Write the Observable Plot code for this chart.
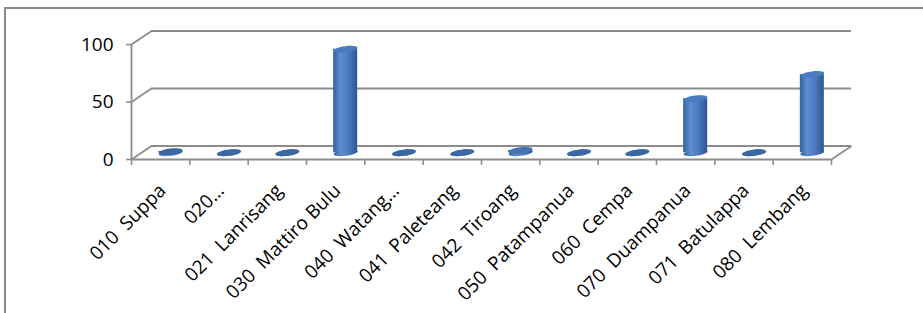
<!DOCTYPE html>
<html>
<head>
<meta charset="utf-8">
<script src="https://cdn.jsdelivr.net/npm/d3@7"></script>
<script src="https://cdn.jsdelivr.net/npm/@observablehq/plot@0.6"></script>
<style>
  html, body { margin: 0; padding: 0; background: #fff; overflow: hidden; }
  #frame { position: absolute; left: 4px; top: 7px; width: 1000px; height: 400px; border: 2px solid #8a8a8a; box-sizing: border-box; }
  #chart { position: absolute; left: 0; top: 0; }
  #chart svg text { white-space: pre; }
</style>
</head>
<body>
<div id="frame"></div>
<div id="chart"></div>
<script>
// ---- data ----
const categories = ["010  Suppa", "020…", "021  Lanrisang", "030  Mattiro Bulu", "040  Watang…", "041  Paleteang",
  "042  Tiroang", "050  Patampanua", "060  Cempa", "070  Duampanua", "071  Batulappa", "080  Lembang"];
const values = [1, 0, 0, 90, 0, 0, 2, 0, 0, 47, 0, 68];
const yTicks = [0, 50, 100];

// ---- layout ----
const W = 923, H = 313;
const mL = 131, mR = 92, mT = 44, mB = 154;
const n = categories.length;
const pxPerX = (W - mL - mR) / n;
const pxPerY = (H - mT - mB) / 100;
const DX = 20 / pxPerX;      // depth offset in x units
const DY = 13.5 / pxPerY;    // depth offset in y units
const HW = 12 / pxPerX;      // half cylinder width
const grid = "#8c8c8c";

const data = categories.map((name, i) => ({name, i, value: values[i]}));

const ellipse = {
  draw(ctx, size) {
    const r = Math.sqrt(size / Math.PI);
    const rx = r, ry = r * 0.26;
    const t = -7 * Math.PI / 180, c = Math.cos(t), s = Math.sin(t);
    const P = (x, y) => [x * c - y * s, x * s + y * c];
    const k = 0.5523;
    const m = P(rx, 0); ctx.moveTo(m[0], m[1]);
    const segs = [
      [[rx, ry * k], [rx * k, ry], [0, ry]],
      [[-rx * k, ry], [-rx, ry * k], [-rx, 0]],
      [[-rx, -ry * k], [-rx * k, -ry], [0, -ry]],
      [[rx * k, -ry], [rx, -ry * k], [rx, 0]]
    ];
    for (const [a, b, e] of segs) {
      const A = P(...a), B = P(...b), E = P(...e);
      ctx.bezierCurveTo(A[0], A[1], B[0], B[1], E[0], E[1]);
    }
    ctx.closePath();
  }
};

const cx = d => d.i + 0.5 + DX / 2;

const plot = Plot.plot({
  width: W, height: H,
  marginLeft: mL, marginRight: mR, marginTop: mT, marginBottom: mB,
  x: {domain: [0, n], axis: null},
  y: {domain: [0, 100], axis: null},
  color: {type: "identity"},
  style: {fontFamily: "'Open Sans', sans-serif", background: "transparent", overflow: "visible", color: "#000"},
  marks: [
    // back wall gridlines
    Plot.ruleY(yTicks, {y: d => d + DY, x1: DX, x2: n + DX, stroke: grid, strokeWidth: 1.8}),
    // side wall diagonals
    Plot.link(yTicks, {x1: 0, y1: d => d, x2: DX, y2: d => d + DY, stroke: grid, strokeWidth: 1.8}),
    // floor right edge
    Plot.link([0], {x1: n, y1: 0, x2: n + DX, y2: DY, stroke: grid, strokeWidth: 1.8}),
    // floor front edge
    Plot.ruleY([0], {x1: 0, x2: n, stroke: grid, strokeWidth: 1.8}),
    // front y axis line
    Plot.ruleX([0], {y1: 0, y2: 100, stroke: grid, strokeWidth: 1.8}),
    Plot.axisY(yTicks, {anchor: "left", tickSize: 5, tickPadding: 13, fontSize: 19, stroke: grid, strokeWidth: 1.6, fill: "#000"}),
    Plot.axisX(d3.range(n + 1), {anchor: "bottom", tickSize: 6, tickFormat: () => "", stroke: grid, strokeWidth: 1.6}),
    // cylinders
    Plot.dot(data, {x: cx, y: DY / 2, r: 12, symbol: ellipse, fill: "url(#cylGrad)"}),
    Plot.rect(data, {x1: d => cx(d) - HW, x2: d => cx(d) + HW, y1: DY / 2, y2: d => d.value + DY / 2, fill: "url(#cylGrad)"}),
    Plot.dot(data, {x: cx, y: d => d.value + DY / 2, r: 12, symbol: ellipse,
      fill: d => d.value > 5 ? "#4b7cbf" : (d.value > 1.5 ? "#4474b4" : "#3b68a3")}),
    // category labels
    Plot.text(data, {x: d => d.i + 0.5, y: 0, text: "name", rotate: -45, textAnchor: "end", dx: 2, dy: 28, fontSize: 19, fill: "#000"})
  ]
});

document.getElementById("chart").appendChild(plot);
d3.select(plot).insert("defs", ":first-child").html(`
  <linearGradient id="cylGrad" x1="0" x2="1" y1="0" y2="0">
    <stop offset="0" stop-color="#34609a"/>
    <stop offset="0.3" stop-color="#5d90d3"/>
    <stop offset="0.6" stop-color="#4b7dc0"/>
    <stop offset="1" stop-color="#2c5890"/>
  </linearGradient>`);
</script>
</body>
</html>
